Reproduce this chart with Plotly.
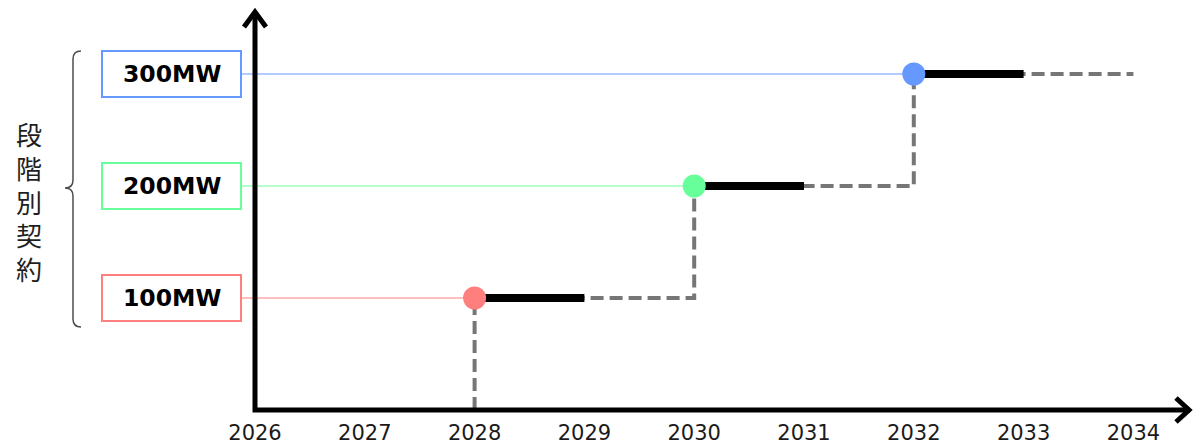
import plotly.graph_objects as go

# ---- data ----
tick_years = [2026, 2027, 2028, 2029, 2030, 2031, 2032, 2033, 2034]
levels_mw = [100, 200, 300]
level_labels = ["100MW", "200MW", "300MW"]
start_years = [2028, 2030, 2032]
firm_end_years = [2029, 2031, 2033]
last_year = 2034
level_colors = ["#FF7F7F", "#66FF99", "#6699FF"]
side_title = "段階別契約"

# ---- geometry (pixels of the 1193x442 canvas) ----
W, H = 1193, 442
PL, PR, PT, PB = 255, 1190, 12, 410
X0 = 2026
X1 = 2026 + (PR - PL) / 109.8
Y1 = (PB - PT) / 1.12


def xp(px):
    return (px - PL) / (PR - PL)


def yp(py):
    return (PB - py) / (PB - PT)


def year_to_paper(yr):
    return (yr - X0) / (X1 - X0)


fig = go.Figure()

# dashed step path
sx, sy = [start_years[0]], [0]
for i, (yr, lv) in enumerate(zip(start_years, levels_mw)):
    sx += [yr]
    sy += [lv]
    nxt = start_years[i + 1] if i + 1 < len(start_years) else last_year
    sx += [nxt]
    sy += [lv]
fig.add_trace(go.Scatter(x=sx, y=sy, mode="lines",
                         line=dict(color="#767676", width=4, dash="13px,6px"),
                         hoverinfo="skip", showlegend=False))

# firm (black) segments
for yr, ye, lv in zip(start_years, firm_end_years, levels_mw):
    fig.add_trace(go.Scatter(x=[yr, ye], y=[lv, lv], mode="lines",
                             line=dict(color="#000000", width=8),
                             hoverinfo="skip", showlegend=False))

# dots
fig.add_trace(go.Scatter(x=start_years, y=levels_mw, mode="markers",
                         marker=dict(size=23, color=level_colors, line=dict(width=0)),
                         hoverinfo="skip", showlegend=False))

shapes = []
annotations = []

# thin level lines from boxes to dots, boxes, labels
box_l, box_r = xp(102), xp(241)
for lv, lab, col, yr in zip(levels_mw, level_labels, level_colors, start_years):
    shapes.append(dict(type="line", xref="paper", yref="y",
                       x0=box_r, x1=year_to_paper(yr), y0=lv, y1=lv,
                       line=dict(color=col, width=1), layer="below"))
    shapes.append(dict(type="rect", xref="paper", yref="y",
                       x0=box_l, x1=box_r, y0=lv - 20.5, y1=lv + 20.5,
                       line=dict(color=col, width=2), fillcolor="white", layer="above"))
    annotations.append(dict(xref="paper", yref="y", x=(box_l + box_r) / 2, y=lv,
                            text="<b>" + lab + "</b>", showarrow=False,
                            font=dict(family="DejaVu Sans", size=23.5, color="#000000"),
                            xanchor="center", yanchor="middle"))

# axes drawn as lines with open chevron arrows
shapes.append(dict(type="path", xref="paper", yref="paper",
                   path=f"M {xp(PL)} {yp(PT)} L {xp(PL)} {yp(PB)} L {xp(PR)} {yp(PB)}",
                   line=dict(color="#000000", width=5), layer="above"))
shapes.append(dict(type="path", xref="paper", yref="paper",
                   path=f"M {xp(244)} {yp(27)} L {xp(PL)} {yp(PT)} L {xp(266)} {yp(27)}",
                   line=dict(color="#000000", width=5), layer="above"))
shapes.append(dict(type="path", xref="paper", yref="paper",
                   path=f"M {xp(1176)} {yp(398)} L {xp(1189)} {yp(PB)} L {xp(1176)} {yp(422)}",
                   line=dict(color="#000000", width=5), layer="above"))

# brace
bx, top, mid, bot = 73, 51, 188, 327
brace = (f"M {xp(81)} {yp(top)} Q {xp(bx)} {yp(top)} {xp(bx)} {yp(top + 8)} "
         f"L {xp(bx)} {yp(mid - 8)} Q {xp(bx)} {yp(mid)} {xp(65)} {yp(mid)} "
         f"Q {xp(bx)} {yp(mid)} {xp(bx)} {yp(mid + 8)} "
         f"L {xp(bx)} {yp(bot - 8)} Q {xp(bx)} {yp(bot)} {xp(81)} {yp(bot)}")
shapes.append(dict(type="path", xref="paper", yref="paper", path=brace,
                   line=dict(color="#4d4d4d", width=1.5), layer="above"))

# vertical side title
annotations.append(dict(xref="paper", yref="paper", x=xp(29), y=yp(201),
                        text="<br>".join(side_title), showarrow=False,
                        font=dict(family="Noto Sans CJK JP", size=26, color="#1f1f1f"),
                        xanchor="center", yanchor="middle", align="center"))

fig.update_layout(
    width=W, height=H,
    margin=dict(l=PL, r=W - PR, t=PT, b=H - PB, autoexpand=False),
    paper_bgcolor="white", plot_bgcolor="white",
    shapes=shapes, annotations=annotations,
    xaxis=dict(range=[X0, X1], tickvals=tick_years, ticktext=[str(t) for t in tick_years],
               automargin=False,
               showgrid=False, zeroline=False, showline=False,
               ticks="outside", ticklen=4, tickcolor="rgba(0,0,0,0)",
               tickfont=dict(family="DejaVu Sans", size=21, color="#1a1a1a")),
    yaxis=dict(range=[0, Y1], automargin=False, showgrid=False, zeroline=False,
               showline=False, showticklabels=False, ticks=""),
)

page_fix = (
    "var d=document.documentElement,b=document.body;"
    "d.style.margin='0';d.style.padding='0';"
    "b.style.margin='0';b.style.padding='0';"
)

fig.write_html("out.html", config={"displayModeBar": False, "staticPlot": True},
               post_script=page_fix)
